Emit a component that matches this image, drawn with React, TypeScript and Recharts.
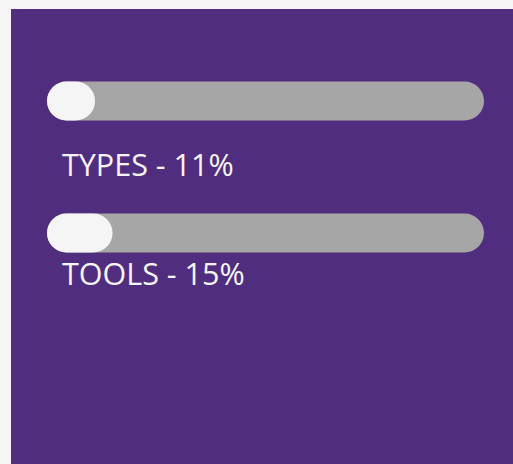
import React from "react";
import { BarChart, Bar, XAxis, YAxis, LabelList } from "recharts";

const categories = ["TYPES", "TOOLS"];
const values = [11, 15];

const data = categories.map((name, i) => ({ name, value: values[i] }));

const labelOffsets = [55, 32];

const RowLabel = (props: any) => {
  const { x, y, height, index, value } = props;
  const name = categories[index];
  return (
    <text
      x={x + 15}
      y={y + height + labelOffsets[index]}
      fill="#f5f5f5"
      fontSize={30.5}
      fontFamily="'Open Sans', sans-serif"
    >
      {`${name} - ${value}%`}
    </text>
  );
};

export default function App() {
  return (
    <div style={{ position: "fixed", left: 0, top: 0, width: 513, height: 464, background: "#f5f5f5", overflow: "hidden" }}>
      <div style={{ position: "absolute", left: 11, top: 9, width: 502, height: 455, background: "#502d7e" }} />
      <div style={{ position: "absolute", left: 0, top: 0 }}>
        <BarChart
          width={513}
          height={464}
          data={data}
          layout="vertical"
          margin={{ top: 34.5, right: 29, bottom: 165.5, left: 47 }}
          barCategoryGap={0}
        >
          <XAxis type="number" domain={[0, 100]} hide />
          <YAxis type="category" dataKey="name" hide width={0} />
          <Bar
            dataKey="value"
            barSize={39}
            fill="#f5f5f5"
            radius={19.5}
            background={{ fill: "#a6a6a6", radius: 19.5 } as any}
            isAnimationActive={false}
          >
            <LabelList dataKey="value" content={<RowLabel />} />
          </Bar>
        </BarChart>
      </div>
    </div>
  );
}
